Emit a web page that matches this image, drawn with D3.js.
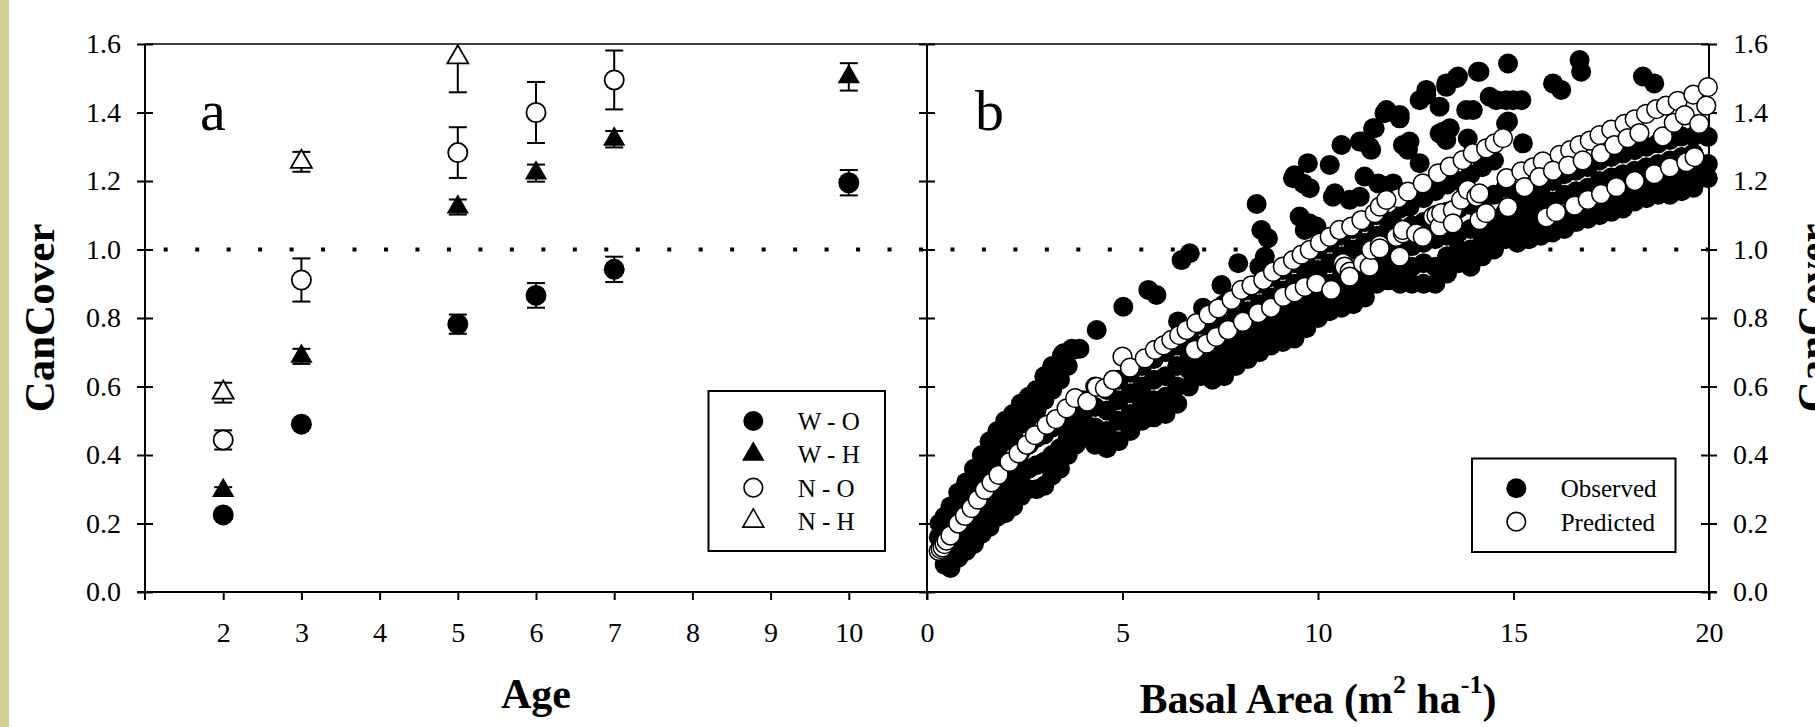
<!DOCTYPE html>
<html><head><meta charset="utf-8">
<script src="https://cdn.jsdelivr.net/npm/d3@7"></script>
<style>
html,body{margin:0;padding:0;background:#fff;}
svg{display:block;}
</style></head>
<body>
<svg id="chart" width="1815" height="727"></svg>
<script>
// ---------- tick labels ----------
const ageTicks = [2, 3, 4, 5, 6, 7, 8, 9, 10];
const coverTicks = [0, 0.2, 0.4, 0.6, 0.8, 1.0, 1.2, 1.4, 1.6];
const basalTicks = [0, 5, 10, 15, 20];

// ---------- panel a: canopy cover by stand age (mean and SE) ----------
const woAge = [2, 3, 5, 6, 7, 10];
const woMean = [0.225, 0.49, 0.782, 0.866, 0.942, 1.195];
const woErr = [0.01, 0.01, 0.028, 0.036, 0.037, 0.037];

const whAge = [2, 3, 5, 6, 7, 10];
const whMean = [0.296, 0.688, 1.124, 1.223, 1.322, 1.504];
const whErr = [0.01, 0.022, 0.022, 0.025, 0.024, 0.04];

const noAge = [2, 3, 5, 6, 7];
const noMean = [0.444, 0.911, 1.283, 1.40, 1.495];
const noErr = [0.028, 0.063, 0.074, 0.089, 0.086];

const nhAge = [2, 3, 5];
const nhMean = [0.582, 1.256, 1.561];
const nhErr = [0.029, 0.029, 0.102];

const groupNames = ["W - O", "W - H", "N - O", "N - H"];

// ---------- panel b: canopy cover against basal area ----------
const observed = [
  [0.3,0.12],[0.3,0.16],[0.32,0.2],
  [0.45,0.08],[0.45,0.12],[0.45,0.17],[0.45,0.22],
  [0.6,0.07],[0.6,0.11],[0.6,0.15],[0.6,0.2],[0.6,0.25],
  [0.8,0.1],[0.8,0.14],[0.8,0.19],[0.8,0.24],[0.8,0.29],
  [1.0,0.12],[1.0,0.17],[1.0,0.22],[1.0,0.27],[1.0,0.32],
  [1.2,0.14],[1.2,0.19],[1.2,0.25],[1.2,0.31],[1.2,0.36],
  [1.4,0.17],[1.4,0.22],[1.4,0.28],[1.4,0.34],[1.4,0.4],
  [1.6,0.19],[1.6,0.25],[1.6,0.31],[1.6,0.38],[1.6,0.44],
  [1.8,0.22],[1.8,0.27],[1.8,0.33],[1.8,0.41],[1.8,0.47],
  [2.0,0.23],[2.0,0.29],[2.0,0.36],[2.0,0.44],[2.0,0.5],
  [2.2,0.25],[2.2,0.31],[2.2,0.38],[2.2,0.46],[2.2,0.52],
  [2.4,0.28],[2.4,0.34],[2.4,0.41],[2.4,0.49],[2.4,0.55],
  [2.6,0.3],[2.6,0.36],[2.6,0.43],[2.6,0.51],[2.6,0.57],
  [2.8,0.3],[2.8,0.37],[2.8,0.45],[2.8,0.53],[2.8,0.59],
  [3.0,0.31],[3.0,0.38],[3.0,0.46],[3.0,0.56],[3.0,0.63],
  [3.2,0.34],[3.2,0.4],[3.2,0.48],[3.2,0.59],[3.2,0.66],
  [3.4,0.36],[3.4,0.42],[3.4,0.5],[3.4,0.62],[3.45,0.69],
  [3.6,0.4],[3.6,0.45],[3.6,0.52],[3.6,0.66],[3.7,0.71],
  [3.8,0.43],[3.8,0.48],[3.8,0.54],[3.9,0.71],
  [4.0,0.45],[4.0,0.5],[4.0,0.56],
  [4.3,0.43],[4.3,0.48],[4.3,0.54],[4.3,0.6],
  [4.6,0.42],[4.6,0.47],[4.6,0.53],[4.6,0.59],
  [4.9,0.44],[4.9,0.5],[4.9,0.56],[4.9,0.62],
  [5.2,0.47],[5.2,0.52],[5.2,0.58],[5.2,0.64],
  [5.5,0.5],[5.5,0.55],[5.5,0.6],[5.5,0.66],
  [5.8,0.51],[5.8,0.56],[5.8,0.62],[5.8,0.68],
  [6.1,0.52],[6.1,0.57],[6.1,0.63],[6.1,0.7],
  [6.4,0.55],[6.4,0.6],[6.4,0.66],[6.4,0.72],[6.42,0.79],
  [6.7,0.6],[6.7,0.65],[6.7,0.7],[6.7,0.75],
  [7.0,0.63],[7.0,0.68],[7.0,0.72],[7.0,0.78],[7.06,0.83],
  [7.3,0.62],[7.3,0.67],[7.3,0.71],[7.3,0.76],[7.3,0.8],
  [7.6,0.63],[7.6,0.68],[7.6,0.73],[7.6,0.78],[7.6,0.84],[7.53,0.896],
  [7.9,0.66],[7.9,0.7],[7.9,0.74],[7.9,0.8],[7.9,0.86],
  [8.2,0.68],[8.2,0.72],[8.2,0.77],[8.2,0.82],[8.2,0.88],
  [8.5,0.7],[8.5,0.74],[8.5,0.79],[8.5,0.84],[8.5,0.9],[8.5,0.95],
  [8.8,0.72],[8.8,0.76],[8.8,0.8],[8.8,0.86],[8.8,0.92],
  [9.1,0.73],[9.1,0.78],[9.1,0.82],[9.1,0.88],[9.1,0.94],
  [9.4,0.74],[9.4,0.79],[9.4,0.84],[9.4,0.9],[9.4,0.96],
  [9.7,0.77],[9.7,0.81],[9.7,0.86],[9.7,0.93],[9.7,0.98],
  [10.0,0.8],[10.0,0.84],[10.0,0.88],[10.0,0.94],[10.0,1.0],
  [10.3,0.82],[10.3,0.86],[10.3,0.9],[10.3,0.96],[10.3,1.02],
  [10.6,0.83],[10.6,0.87],[10.6,0.92],[10.6,0.98],[10.6,1.04],
  [10.9,0.84],[10.9,0.88],[10.9,0.94],[10.9,1.0],[10.9,1.06],
  [11.2,0.86],[11.2,0.9],[11.2,0.95],[11.2,1.02],[11.2,1.08],
  [11.5,0.9],[11.5,0.94],[11.5,0.98],[11.5,1.04],[11.5,1.1],
  [11.8,0.91],[11.8,0.95],[11.8,1.0],[11.8,1.06],[11.8,1.12],
  [12.1,0.9],[12.1,0.94],[12.1,1.0],[12.1,1.06],[12.1,1.12],
  [12.4,0.9],[12.4,0.95],[12.4,1.01],[12.4,1.07],[12.4,1.14],
  [12.7,0.9],[12.7,0.96],[12.7,1.02],[12.7,1.08],[12.7,1.15],
  [13.0,0.9],[13.0,0.95],[13.0,1.03],[13.0,1.1],[13.0,1.17],
  [13.3,0.93],[13.3,0.98],[13.3,1.04],[13.3,1.11],[13.3,1.19],
  [13.6,0.96],[13.6,1.0],[13.6,1.05],[13.6,1.12],[13.6,1.2],
  [13.9,0.95],[13.9,1.0],[13.9,1.06],[13.9,1.13],[13.9,1.22],
  [14.2,0.98],[14.2,1.02],[14.2,1.07],[14.2,1.14],[14.2,1.24],
  [14.5,1.0],[14.5,1.04],[14.5,1.09],[14.5,1.16],[14.5,1.26],
  [14.8,1.03],[14.8,1.07],[14.8,1.11],[14.8,1.18],
  [15.1,1.02],[15.1,1.06],[15.1,1.11],[15.1,1.16],
  [15.4,1.03],[15.4,1.07],[15.4,1.12],[15.4,1.17],
  [15.7,1.04],[15.7,1.08],[15.7,1.13],[15.7,1.18],
  [16.0,1.05],[16.0,1.09],[16.0,1.14],[16.0,1.2],
  [16.3,1.06],[16.3,1.1],[16.3,1.16],[16.3,1.22],
  [16.6,1.08],[16.6,1.12],[16.6,1.17],[16.6,1.23],
  [16.9,1.09],[16.9,1.13],[16.9,1.18],[16.9,1.24],
  [17.2,1.1],[17.2,1.14],[17.2,1.2],[17.2,1.26],
  [17.5,1.11],[17.5,1.15],[17.5,1.21],[17.5,1.27],
  [17.8,1.12],[17.8,1.16],[17.8,1.22],[17.8,1.28],
  [18.1,1.14],[18.1,1.18],[18.1,1.23],[18.1,1.29],
  [18.4,1.15],[18.4,1.19],[18.4,1.24],[18.4,1.3],
  [18.7,1.16],[18.7,1.2],[18.7,1.25],[18.7,1.31],
  [19.0,1.16],[19.0,1.21],[19.0,1.26],[19.0,1.32],
  [19.3,1.17],[19.3,1.22],[19.3,1.27],[19.3,1.33],
  [19.6,1.18],[19.6,1.23],[19.6,1.28],[19.6,1.33],
  [19.97,1.208],[19.97,1.25],[19.97,1.329],
  // scattered stands above the main band
  [3.49,0.697],[3.74,0.707],[4.34,0.765],[5.02,0.833],[5.66,0.882],[5.87,0.867],
  [6.51,0.969],[6.72,0.989],[7.96,0.96],[8.43,1.133],[8.55,1.057],[8.72,1.033],[8.64,0.979],
  [9.36,1.208],[9.62,1.193],[9.4,1.217],[9.74,1.252],[9.79,1.179],[9.7,1.076],[9.96,1.067],
  [9.66,1.057],[9.53,1.096],[9.79,1.076],[10.3,1.247],[10.6,1.305],[11.07,1.315],[11.32,1.3],
  [11.41,1.354],[11.7,1.398],[11.75,1.407],[12.09,1.393],[12.09,1.383],[12.34,1.315],
  [12.17,1.305],[12.3,1.291],[11.19,1.213],[11.54,1.193],[10.38,1.154],[10.43,1.164],
  [10.81,1.145],[11.07,1.154],[11.92,1.193],[12.6,1.252],[12.6,1.436],[12.77,1.451],
  [12.77,1.466],[13.28,1.475],[13.28,1.485],[13.54,1.5],[13.58,1.505],[14.09,1.519],
  [14.13,1.519],[13.11,1.417],[13.79,1.407],[13.96,1.407],[13.2,1.344],[13.28,1.32],
  [13.11,1.339],[13.37,1.354],[13.83,1.324],[14.39,1.446],[14.56,1.436],[14.81,1.436],
  [14.99,1.436],[15.2,1.436],[14.86,1.374],[14.81,1.368],[14.86,1.543],[15.24,1.31],
  [16.01,1.485],[16.22,1.466],[16.69,1.553],[16.73,1.519],[18.31,1.505],[18.6,1.485],
  [11.15,1.315],[11.36,1.291],[11.45,1.354],[11.92,1.106],[12.34,1.125]
];

const predicted = [
  [0.3,0.12],[0.35,0.125],[0.4,0.13],[0.45,0.14],[0.5,0.15],[0.6,0.165],[0.8,0.2],[0.97,0.222],
  [1.14,0.245],[1.3,0.27],[1.48,0.298],[1.65,0.32],[1.83,0.342],[2.11,0.38],[2.34,0.405],
  [2.55,0.43],[2.76,0.458],[3.06,0.488],[3.3,0.505],[3.57,0.536],[3.79,0.566],[4.1,0.556],
  [4.34,0.599],[4.55,0.595],[4.76,0.619],[5.0,0.687],[5.19,0.655],[5.57,0.682],[5.83,0.707],
  [6.05,0.72],[6.25,0.736],[6.45,0.75],[6.64,0.765],[6.89,0.785],[7.2,0.81],[7.45,0.828],
  [7.79,0.853],[8.04,0.882],[8.3,0.895],[8.6,0.911],[8.85,0.935],[9.1,0.95],[9.36,0.969],
  [9.58,0.985],[9.79,0.999],[10.05,1.02],[10.3,1.037],[10.55,1.057],[10.85,1.067],[11.11,1.086],
  [11.45,1.106],[11.79,1.135],[12.05,1.15],[12.3,1.169],[12.68,1.193],[13.07,1.222],
  [13.37,1.242],[13.7,1.261],[13.96,1.281],[14.3,1.295],[14.52,1.31],[14.73,1.325],
  [6.85,0.707],[7.15,0.725],[7.4,0.745],[7.7,0.765],[8.08,0.789],[8.47,0.814],[8.8,0.83],
  [9.11,0.862],[9.4,0.875],[9.66,0.891],[9.96,0.901],[10.34,0.882],[10.64,0.96],[10.68,0.95],
  [10.81,0.935],[10.81,0.921],[11.15,0.96],[11.32,0.95],[11.36,0.999],[11.58,1.013],
  [11.58,1.003],[12.09,0.979],[12.0,1.037],[12.17,1.047],[12.17,1.057],[12.51,1.047],
  [12.68,1.037],[12.94,1.096],[13.03,1.1],[13.11,1.067],[13.15,1.106],[13.45,1.115],
  [13.45,1.076],[13.66,1.145],[13.83,1.174],[14.05,1.154],[14.13,1.164],[14.13,1.086],
  [14.3,1.106],[11.58,1.125],[11.75,1.145],
  [14.82,1.208],[15.2,1.228],[15.5,1.24],[15.75,1.257],[16.18,1.276],[16.45,1.29],[16.69,1.305],
  [16.95,1.318],[17.2,1.334],[17.5,1.35],[17.84,1.367],[18.1,1.38],[18.39,1.396],[18.65,1.41],
  [18.9,1.42],[19.2,1.434],[19.6,1.452],[19.97,1.474],
  [14.86,1.124],[15.28,1.182],[15.66,1.211],[16.01,1.23],[16.4,1.245],[16.77,1.26],[17.24,1.28],
  [17.58,1.305],[17.92,1.325],[18.22,1.34],[18.82,1.33],[19.1,1.37],[19.38,1.392],[19.75,1.367],
  [19.93,1.42],
  [15.84,1.094],[16.09,1.109],[16.56,1.128],[16.9,1.145],[17.24,1.162],[17.63,1.182],
  [18.1,1.2],[18.6,1.22],[19.0,1.24],[19.42,1.255],[19.63,1.27]
];

const bLegend = ["Observed", "Predicted"];

// ---------- layout ----------
const svg = d3.select("#chart");
const serif = "'Liberation Serif','Times New Roman',Times,serif";

svg.append("rect").attr("x", 0).attr("y", 0).attr("width", 9).attr("height", 727)
  .attr("fill", "#d0d08f");

const xA = d3.scaleLinear().domain([1, 11]).range([145, 927]);
const xB = d3.scaleLinear().domain([0, 20]).range([927, 1709]);
const y = d3.scaleLinear().domain([0, 1.6]).range([592, 44]);
const fmt = d3.format(".1f");

function styleAxis(g) {
  g.select(".domain").remove();
  g.selectAll(".tick line").attr("stroke", "#000").attr("stroke-width", 2);
  g.selectAll(".tick text").attr("font-family", serif).attr("font-size", 28).attr("fill", "#000");
}

// frame lines
const frame = svg.append("g").attr("stroke", "#000").attr("fill", "none");
frame.append("line").attr("x1", 145).attr("x2", 1709).attr("y1", y(1.6)).attr("y2", y(1.6)).attr("stroke-width", 1.6);
frame.append("line").attr("x1", 137).attr("x2", 1717).attr("y1", y(0)).attr("y2", y(0)).attr("stroke-width", 2);
[xA(1), xA(11), xB(20)].forEach(xx =>
  frame.append("line").attr("x1", xx).attr("x2", xx).attr("y1", y(1.6)).attr("y2", y(0) + 8).attr("stroke-width", 2));

// x axes
svg.append("g").attr("transform", `translate(0,${y(0)})`)
  .call(d3.axisBottom(xA).tickValues(ageTicks).tickSize(8).tickPadding(22).tickFormat(d3.format("d")))
  .call(styleAxis);
svg.append("g").attr("transform", `translate(0,${y(0)})`)
  .call(d3.axisBottom(xB).tickValues(basalTicks).tickSize(8).tickPadding(22).tickFormat(d3.format("d")))
  .call(styleAxis);

// y axes: left labelled, middle plain, right labelled; ticks cross the line
svg.append("g").attr("transform", `translate(${xA(1)},0)`)
  .call(d3.axisLeft(y).tickValues(coverTicks).tickSize(8).tickPadding(16).tickFormat(fmt))
  .call(styleAxis).call(g => g.selectAll(".tick line").attr("x1", 8));
svg.append("g").attr("transform", `translate(${xA(11)},0)`)
  .call(d3.axisLeft(y).tickValues(coverTicks).tickSize(8).tickFormat(""))
  .call(styleAxis).call(g => g.selectAll(".tick line").attr("x1", 8));
svg.append("g").attr("transform", `translate(${xB(20)},0)`)
  .call(d3.axisRight(y).tickValues(coverTicks).tickSize(8).tickPadding(16).tickFormat(fmt))
  .call(styleAxis).call(g => g.selectAll(".tick line").attr("x1", -8));

// full-cover reference line
svg.append("line")
  .attr("x1", 163.7).attr("x2", xB(20) + 2)
  .attr("y1", y(1.0)).attr("y2", y(1.0))
  .attr("stroke", "#000").attr("stroke-width", 4)
  .attr("stroke-dasharray", "4 27.47");

// ---------- panel a marks ----------
svg.append("clipPath").attr("id", "clipA").append("rect")
  .attr("x", xA(1)).attr("y", y(1.6)).attr("width", xA(11) - xA(1)).attr("height", y(0) - y(1.6));

const triangle = d3.symbol().type(d3.symbolTriangle);
const seriesA = [
  { name: groupNames[0], age: woAge, mean: woMean, err: woErr, shape: "circle", fill: "#000" },
  { name: groupNames[1], age: whAge, mean: whMean, err: whErr, shape: "triangle", fill: "#000" },
  { name: groupNames[2], age: noAge, mean: noMean, err: noErr, shape: "circle", fill: "#fff" },
  { name: groupNames[3], age: nhAge, mean: nhMean, err: nhErr, shape: "triangle", fill: "#fff" }
];

const gA = svg.append("g");
seriesA.forEach(s => {
  const pts = s.age.map((a, i) => ({ a, m: s.mean[i], e: s.err[i] }));
  const eb = gA.append("g").attr("clip-path", "url(#clipA)").attr("stroke", "#000").attr("stroke-width", 2);
  pts.forEach(p => {
    const cx = xA(p.a), y1 = y(p.m + p.e), y2 = y(p.m - p.e);
    eb.append("line").attr("x1", cx).attr("x2", cx).attr("y1", y1).attr("y2", y2);
    eb.append("line").attr("x1", cx - 9).attr("x2", cx + 9).attr("y1", y1).attr("y2", y1);
    eb.append("line").attr("x1", cx - 9).attr("x2", cx + 9).attr("y1", y2).attr("y2", y2);
  });
  const mk = gA.append("g").selectAll("path").data(pts).join("path")
    .attr("transform", p => `translate(${xA(p.a)},${y(p.m)})`)
    .attr("fill", s.fill).attr("stroke", "#000").attr("stroke-width", s.fill === "#000" ? 0 : 1.8);
  if (s.shape === "circle") mk.attr("d", d3.symbol().type(d3.symbolCircle).size(Math.PI * (s.fill === "#000" ? 10.5 : 9.6) ** 2)());
  else mk.attr("d", triangle.size(s.fill === "#000" ? 215 : 190)());
});

// legend a
const legA = svg.append("g");
legA.append("rect").attr("x", 708.5).attr("y", 391).attr("width", 176.5).attr("height", 160)
  .attr("fill", "#fff").attr("stroke", "#000").attr("stroke-width", 2);
seriesA.forEach((s, i) => {
  const ry = 421 + i * 33.35;
  const p = legA.append("path").attr("transform", `translate(753.3,${ry})`)
    .attr("fill", s.fill).attr("stroke", "#000").attr("stroke-width", s.fill === "#000" ? 0 : 1.6);
  if (s.shape === "circle") p.attr("d", d3.symbol().type(d3.symbolCircle).size(Math.PI * (s.fill === "#000" ? 10 : 9.3) ** 2)());
  else p.attr("d", d3.symbol().type(d3.symbolTriangle).size(s.fill === "#000" ? 220 : 190)());
  legA.append("text").attr("x", 797.7).attr("y", ry + 9).text(s.name)
    .attr("font-family", serif).attr("font-size", 25).attr("fill", "#000");
});

// ---------- panel b marks ----------
const gB = svg.append("g");
gB.append("g").selectAll("circle").data(observed).join("circle")
  .attr("cx", d => xB(d[0])).attr("cy", d => y(d[1])).attr("r", 10).attr("fill", "#000");
gB.append("g").selectAll("circle").data(predicted).join("circle")
  .attr("cx", d => xB(d[0])).attr("cy", d => y(d[1])).attr("r", 9.4)
  .attr("fill", "#fff").attr("stroke", "#000").attr("stroke-width", 1.5);

// legend b
const legB = svg.append("g");
legB.append("rect").attr("x", 1472).attr("y", 458.5).attr("width", 203.5).attr("height", 93.5)
  .attr("fill", "#fff").attr("stroke", "#000").attr("stroke-width", 2);
bLegend.forEach((name, i) => {
  const ry = 488.3 + i * 33.4;
  legB.append("circle").attr("cx", 1516.3).attr("cy", ry).attr("r", i === 0 ? 10 : 9.3)
    .attr("fill", i === 0 ? "#000" : "#fff").attr("stroke", "#000").attr("stroke-width", i === 0 ? 0 : 1.6);
  legB.append("text").attr("x", 1560.7).attr("y", ry + 9).text(name)
    .attr("font-family", serif).attr("font-size", 25).attr("fill", "#000");
});

// ---------- titles and panel letters ----------
svg.append("text").attr("x", 200).attr("y", 130).text("a")
  .attr("font-family", serif).attr("font-size", 58).attr("fill", "#000");
svg.append("text").attr("x", 975).attr("y", 130).text("b")
  .attr("font-family", serif).attr("font-size", 58).attr("fill", "#000");

svg.append("text").attr("x", (xA(1) + xA(11)) / 2).attr("y", 708).attr("text-anchor", "middle")
  .attr("font-family", serif).attr("font-size", 42).attr("font-weight", "bold").text("Age");

const bt = svg.append("text").attr("x", (xB(0) + xB(20)) / 2).attr("y", 713).attr("text-anchor", "middle")
  .attr("font-family", serif).attr("font-size", 42).attr("font-weight", "bold");
bt.append("tspan").text("Basal Area (m");
bt.append("tspan").attr("font-size", 26).attr("dy", -20).text("2");
bt.append("tspan").attr("dy", 20).text(" ha");
bt.append("tspan").attr("font-size", 26).attr("dy", -20).text("-1");
bt.append("tspan").attr("dy", 20).text(")");

[54, 1827].forEach(bx =>
  svg.append("text").attr("transform", `translate(${bx},${(y(0) + y(1.6)) / 2}) rotate(-90)`)
    .attr("text-anchor", "middle").attr("font-family", serif).attr("font-size", 43)
    .attr("font-weight", "bold").text("CanCover"));
</script>
</body></html>
